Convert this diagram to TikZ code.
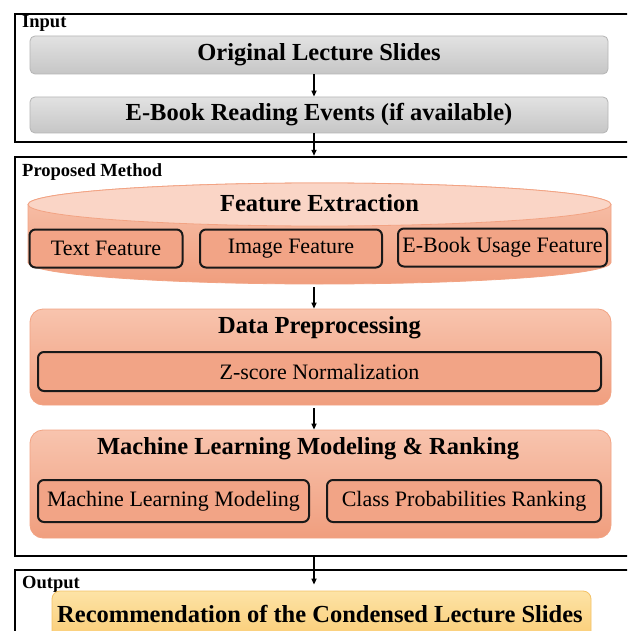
\documentclass[tikz,border=0pt]{standalone}
\usepackage{fontspec}
\setmainfont{Liberation Serif}
\usetikzlibrary{arrows.meta,calc}
\definecolor{grayfillA}{HTML}{E2E2E2}
\definecolor{grayfillB}{HTML}{C6C6C6}
\definecolor{graydraw}{HTML}{B5B5B5}
\definecolor{salA}{HTML}{F8C4AE}
\definecolor{salB}{HTML}{F09E7E}
\definecolor{saldraw}{HTML}{F2A383}
\definecolor{saltop}{HTML}{FAD5C6}
\definecolor{inner}{HTML}{F2A486}
\definecolor{yelA}{HTML}{FDE3A6}
\definecolor{yelB}{HTML}{FAC96E}
\definecolor{yeldraw}{HTML}{F4C266}
\tikzset{
  frame/.style={draw=black, line width=2.4pt, fill=white, inner sep=0pt},
  lbl/.style={font=\fontsize{18.5}{20}\selectfont\bfseries, inner sep=0pt, anchor=west},
  graybox/.style={draw=graydraw, line width=0.8pt, rounded corners=5pt, top color=grayfillA, bottom color=grayfillB, inner sep=0pt, font=\fontsize{24.5}{26}\selectfont\bfseries},
  salbox/.style={draw=saldraw, line width=0.8pt, rounded corners=13pt, top color=salA, bottom color=salB, inner sep=0pt},
  title/.style={font=\fontsize{24.5}{26}\selectfont\bfseries, inner sep=0pt},
  innerbox/.style={draw=black!90, line width=2pt, rounded corners=6pt, fill=inner, inner sep=0pt, font=\fontsize{22}{24}\selectfont},
  yelbox/.style={draw=yeldraw, line width=0.8pt, rounded corners=8pt, top color=yelA, bottom color=yelB, inner sep=0pt},
  arr/.style={-{Triangle[length=6pt,width=5pt]}, line width=1.6pt, black}
}
\begin{document}
\begin{tikzpicture}[x=1pt,y=1pt]
\useasboundingbox (0,0) rectangle (627,-631);
\clip (0,0) rectangle (627,-631);
\fill[white] (0,0) rectangle (627,-631);
% frames
\node[frame, minimum width=640pt, minimum height=128pt] (inp) at (335,-78) {};
\node[frame, minimum width=640pt, minimum height=399pt] (prop) at (335,-356.5) {};
\node[frame, minimum width=640pt, minimum height=90pt] (outp) at (335,-615) {};
\node[lbl] (linp) at (22,-23) {Input};
\node[lbl] (lprop) at (22,-172) {Proposed Method};
\node[lbl] (lout) at (22,-584) {Output};
% input boxes
\node[graybox, minimum width=578pt, minimum height=38pt] (b1) at (319,-55) {Original Lecture Slides};
\node[graybox, minimum width=578pt, minimum height=36pt] (b2) at (319,-115) {E-Book Reading Events (if available)};
% cylinder
\path[draw=saldraw, line width=0.8pt, top color=salA, bottom color=salB]
  (28,-204.5) -- (28,-262.5) arc[start angle=180, end angle=360, x radius=291.5, y radius=21.5] -- (611,-204.5) arc[start angle=0, end angle=180, x radius=291.5, y radius=21.5] -- cycle;
\path[draw=saldraw, line width=0.8pt, fill=saltop] (319.5,-204.5) ellipse[x radius=291.5, y radius=21.5];
\node[inner sep=0pt, minimum width=583pt, minimum height=102pt] (cyl) at (319.5,-233) {};
\node[title] (fe) at (319.5,-203) {Feature Extraction};
\node[innerbox, minimum width=153pt, minimum height=38pt] (tf) at (106,-248.5) {Text Feature};
\node[innerbox, minimum width=182pt, minimum height=38pt] (imf) at (291,-248.5) {Image Feature};
\node[innerbox, minimum width=209pt, minimum height=38pt] (euf) at (502.5,-247.5) {E-Book Usage Feature};
% data preprocessing
\node[salbox, minimum width=581pt, minimum height=96pt] (dp) at (320.5,-357) {};
\node[title] (dpt) at (319.5,-328) {Data Preprocessing};
\node[innerbox, minimum width=563pt, minimum height=39pt] (zs) at (319.5,-371.5) {Z-score Normalization};
% ML
\node[salbox, minimum width=581pt, minimum height=108pt] (ml) at (320.5,-484) {};
\node[title] (mlt) at (308,-449) {Machine Learning Modeling \& Ranking};
\node[innerbox, minimum width=271pt, minimum height=42pt] (mlm) at (173.5,-501) {Machine Learning Modeling};
\node[innerbox, minimum width=274pt, minimum height=42pt] (cpr) at (464,-501) {Class Probabilities Ranking};
% output
\node[yelbox, minimum width=539pt, minimum height=56pt] (rec) at (321.5,-619) {};
\node[title] (rect) at (320,-614) {Recommendation of the Condensed Lecture Slides};
% arrows
\coordinate (ax) at (314,0);
\draw[arr] (ax |- b1.south) -- (ax |- b2.north);
\draw[arr] (ax |- b2.south) -- (ax |- prop.north);
\draw[arr] (ax |- cyl.south) ++(0,-3) -- (ax |- dp.north);
\draw[arr] (ax |- dp.south) ++(0,-3) -- (ax |- ml.north);
\draw[arr] (ax |- prop.south) -- ([yshift=6pt]ax |- rec.north);
\end{tikzpicture}
\end{document}
